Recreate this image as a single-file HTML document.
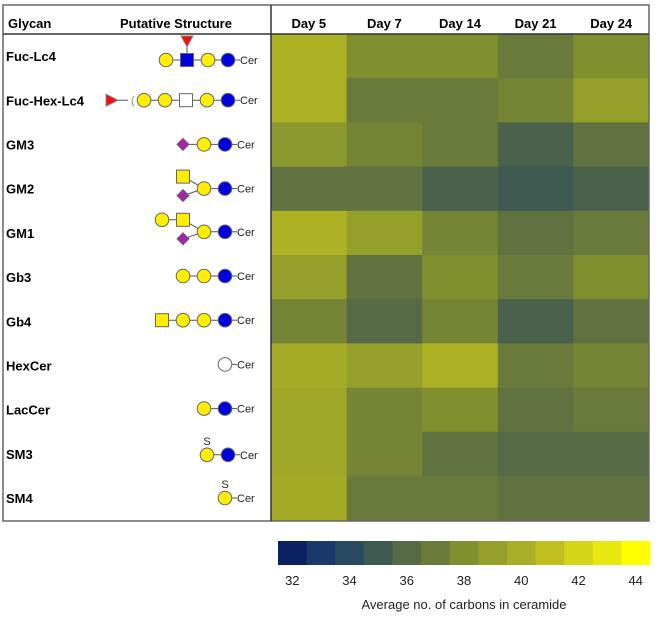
<!DOCTYPE html>
<html><head><meta charset="utf-8"><style>
body{margin:0;background:#fff;width:666px;height:615px;overflow:hidden;font-family:"Liberation Sans",sans-serif}
svg text{font-family:"Liberation Sans",sans-serif}
</style></head><body>
<svg id="chart" width="666" height="615" xmlns="http://www.w3.org/2000/svg">
<g id="glyphs"></g>
<g id="cells"></g>
<g id="frame">
 <rect x="3" y="5" width="646" height="516" fill="none" stroke="#666" stroke-width="1.5"/>
 <line x1="3" y1="34" x2="649" y2="34" stroke="#333" stroke-width="1.5"/>
 <line x1="271" y1="5" x2="271" y2="521" stroke="#333" stroke-width="1.5"/>
 <text x="8" y="28" font-size="13" font-weight="bold">Glycan</text>
 <text x="120" y="28" font-size="13" font-weight="bold">Putative Structure</text>
</g>
<g id="cbar"></g>
<text x="464" y="609" font-size="13" text-anchor="middle" fill="#222">Average no. of carbons in ceramide</text>
</svg>
<script>
const glycans=["Fuc-Lc4","Fuc-Hex-Lc4","GM3","GM2","GM1","Gb3","Gb4","HexCer","LacCer","SM3","SM4"];
const days=["Day 5","Day 7","Day 14","Day 21","Day 24"];
const d5=[40.2,40.2,38.5,36.5,40.2,39,37.5,39.8,39.5,39.5,39.7];
const d7=[38,37,37.5,36.5,39,36.5,36,39,37.5,37.5,37];
const d14=[38,37,37,35.5,37.5,38,37.5,40.2,38,36.5,37];
const d21=[37,37.5,35.5,35,36.5,37,35.5,37,36.5,36,36.5];
const d24=[38,39,36.5,35.5,37,38,36.5,37.5,37,36,36.5];
const series=[d5,d7,d14,d21,d24];
const ticks=[32,34,36,38,40,42,44];
const ramp=["#0a2060","#1a386a","#2a4a60","#3e5a50","#556a45","#6a7a3a","#80902f","#95a02a","#a8ae25","#bfc020","#d4d418","#e8e810","#ffff00"];
const NS="http://www.w3.org/2000/svg";
function mk(t,a,p){const e=document.createElementNS(NS,t);for(const k in a)e.setAttribute(k,a[k]);p.appendChild(e);return e;}
function hex(c){return [1,3,5].map(i=>parseInt(c.substr(i,2),16));}
function color(v){let t=Math.max(0,Math.min(12,v-32));const i=Math.min(11,Math.floor(t)),f=t-i;const a=hex(ramp[i]),b=hex(ramp[i+1]);return "rgb("+a.map((x,k)=>Math.round(x+(b[k]-x)*f)).join(",")+")";}
const x0=271,cw=75.6,y0=34,rh=44.2;
const X=i=>x0+i*cw, Y=j=>y0+j*rh;
const cells=document.getElementById('cells');
series.forEach((s,i)=>s.forEach((v,j)=>{
 const r=mk('rect',{x:X(i),y:Y(j),width:cw+0.5,height:rh+0.5,fill:color(v)},cells);
 
 
}));
const fr=document.getElementById('frame');
days.forEach((d,i)=>{const t=mk('text',{x:X(i)+cw/2,y:28,'font-size':13,'font-weight':'bold','text-anchor':'middle'},fr);t.textContent=d;
 
 });
glycans.forEach((g,j)=>{const t=mk('text',{x:6,y:Y(j)+rh/2+5,'font-size':13,'font-weight':'bold'},fr);t.textContent=g;
 
 });
const cb=document.getElementById('cbar');const bx=278,bw=372/13;
ramp.forEach((c,i)=>{const r=mk('rect',{x:bx+i*bw,y:541,width:bw+0.5,height:24,fill:c},cb);
 
 });
ticks.forEach(v=>{const t=mk('text',{x:bx+(v-32+0.5)*bw,y:585,'font-size':13,'text-anchor':'middle',fill:'#222'},cb);t.textContent=v;
 
 });
const G=document.getElementById('glyphs');
const Yc="#ffee00",B="#0000dd",P="#aa22aa",R="#ee1111";
function line(a,b,c,d){mk('line',{x1:a,y1:b,x2:c,y2:d,stroke:'#555','stroke-width':1},G);}
function circ(x,y,f){mk('circle',{cx:x,cy:y,r:6.8,fill:f,stroke:'#666','stroke-width':1},G);}
function sq(x,y,f){mk('rect',{x:x-6.5,y:y-6.5,width:13,height:13,fill:f,stroke:'#666','stroke-width':1},G);}
function dia(x,y){mk('polygon',{points:`${x-6},${y} ${x},${y-6} ${x+6},${y} ${x},${y+6}`,fill:P,stroke:'#666'},G);}
function cer(x,y){line(x,y,x+5,y);const t=mk('text',{x:x+5,y:y+4,'font-size':11,fill:'#222'},G);t.textContent="Cer";}
function chain(xs,y,types){for(let i=0;i<xs.length-1;i++)line(xs[i],y,xs[i+1],y);xs.forEach((x,i)=>{const t=types[i];if(t==='sq')sq(x,y,Yc);else if(t==='bsq')sq(x,y,B);else if(t==='wsq')sq(x,y,'#fff');else if(t==='d')dia(x,y);else circ(x,y,t==='b'?B:t==='w'?'#fff':Yc);});cer(xs[xs.length-1]+7,y);}
let y;
y=Y(0)+26; line(187,y,187,y-18); mk('polygon',{points:`181,${y-24} 193,${y-24} 187,${y-13}`,fill:R,stroke:'#888'},G); chain([166,187,208,228],y,['y','bsq','y','b']);
y=Y(1)+22; mk('polygon',{points:`106,${y-6} 106,${y+6} 118,${y}`,fill:R,stroke:'#888'},G); line(118,y,128,y); mk('text',{x:131,y:y+4,'font-size':11,fill:'#888'},G).textContent="(";
chain([144,165,186,207,228],y,['y','y','wsq','y','b']);
y=Y(2)+22; chain([183,204,225],y,['d','y','b']);
y=Y(3)+22; line(183,y-12,204,y); line(183,y+7,204,y); sq(183,y-12,Yc); dia(183,y+7); chain([204,225],y,['y','b']);
y=Y(4)+21; line(162,y-12,183,y-12); line(183,y-12,204,y); line(183,y+7,204,y); circ(162,y-12,Yc); sq(183,y-12,Yc); dia(183,y+7); chain([204,225],y,['y','b']);
y=Y(5)+21; chain([183,204,225],y,['y','y','b']);
y=Y(6)+21; chain([162,183,204,225],y,['sq','y','y','b']);
y=Y(7)+21; chain([225],y,['w']);
y=Y(8)+21; chain([204,225],y,['y','b']);
y=Y(9)+23; mk('text',{x:207,y:y-10,'font-size':11,'text-anchor':'middle',fill:'#222'},G).textContent="S"; chain([207,228],y,['y','b']);
y=Y(10)+22; mk('text',{x:225,y:y-10,'font-size':11,'text-anchor':'middle',fill:'#222'},G).textContent="S"; chain([225],y,['y']);
</script>
</body></html>
